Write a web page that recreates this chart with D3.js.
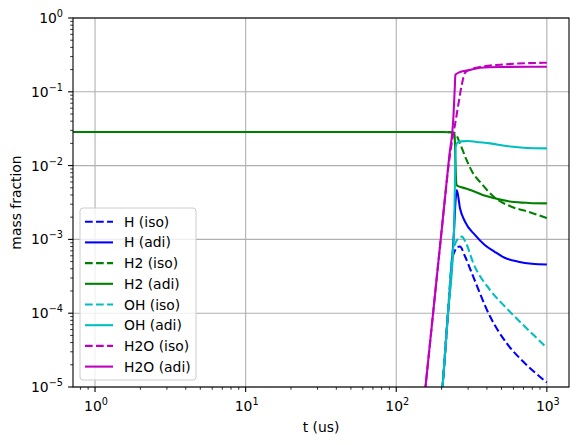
<!DOCTYPE html>
<html>
<head>
<meta charset="utf-8">
<script src="https://cdn.jsdelivr.net/npm/d3@7"></script>
<style>
body { margin: 0; background: #fff; }
svg text { font-family: "DejaVu Sans", sans-serif; fill: #000; }
</style>
</head>
<body>
<div id="chart"></div>
<script>
// time points (us) and mass fractions
const hIsoT   = [195, 203, 220, 236, 245, 255, 265, 285, 325, 420, 542, 698, 1000];
const hIsoY   = [3.4e-6, 1e-5, 9.3e-5, 5.5e-4, 7e-4, 7.9e-4, 8e-4, 6e-4, 3.1e-4, 9e-5, 3.9e-5, 2.2e-5, 1.15e-5];
const hAdiT   = [195, 203, 220, 242, 248, 252.4, 265, 286, 333, 387, 450, 524, 646, 794, 1000];
const hAdiY   = [3.4e-6, 1e-5, 9.3e-5, 1.34e-3, 3.5e-3, 4.67e-3, 2.64e-3, 1.74e-3, 1.15e-3, 8.4e-4, 6.8e-4, 5.65e-4, 4.99e-4, 4.68e-4, 4.58e-4];
const h2IsoT  = [0.714, 200, 228, 238, 245.7, 265, 290, 320, 368, 450, 583, 754, 1000];
const h2IsoY  = [0.0285, 0.0285, 0.0284, 0.028, 0.0274, 0.02, 0.0125, 0.0082, 0.0057, 0.0037, 0.00277, 0.00237, 0.00195];
const h2AdiT  = [0.714, 200, 228, 238, 244, 247, 250, 252, 290, 333, 390, 450, 583, 760, 1000];
const h2AdiY  = [0.0285, 0.0285, 0.0283, 0.0278, 0.026, 0.012, 0.006, 0.0054, 0.0049, 0.00443, 0.0039, 0.0036, 0.00324, 0.00312, 0.00308];
const ohIsoT  = [195, 203, 220, 236, 245, 255, 272, 290, 325, 420, 542, 698, 1000];
const ohIsoY  = [3.4e-6, 1e-5, 9.3e-5, 6.6e-4, 8.5e-4, 1.0e-3, 1.09e-3, 9e-4, 4.75e-4, 2.06e-4, 1.16e-4, 6.9e-5, 3.4e-5];
const ohAdiT  = [195, 203, 220, 242, 246, 248, 255, 270, 300, 342, 420, 540, 700, 1000];
const ohAdiY  = [3.4e-6, 1e-5, 9.3e-5, 1.34e-3, 0.008, 0.018, 0.0205, 0.0213, 0.0216, 0.0209, 0.02, 0.0184, 0.0175, 0.0171];
const h2oIsoT = [150, 175, 200, 225, 235, 245, 258, 272, 286, 309, 360, 490, 1000];
const h2oIsoY = [4.4e-6, 9.3e-5, 1.3e-3, 0.012, 0.022, 0.035, 0.066, 0.123, 0.18, 0.2, 0.217, 0.233, 0.248];
const h2oAdiT = [150, 175, 200, 225, 240, 245, 247, 265, 309, 360, 490, 1000];
const h2oAdiY = [4.4e-6, 9.3e-5, 1.3e-3, 0.0135, 0.048, 0.12, 0.17, 0.185, 0.197, 0.212, 0.217, 0.219];

const labels = ['H (iso)', 'H (adi)', 'H2 (iso)', 'H2 (adi)', 'OH (iso)', 'OH (adi)', 'H2O (iso)', 'H2O (adi)'];
const colors = ['#0000ff', '#0000ff', '#008000', '#008000', '#00bfbf', '#00bfbf', '#bf00bf', '#bf00bf'];
const dashed = [true, false, true, false, true, false, true, false];
const seriesT = [hIsoT, hAdiT, h2IsoT, h2AdiT, ohIsoT, ohAdiT, h2oIsoT, h2oAdiT];
const seriesY = [hIsoY, hAdiY, h2IsoY, h2AdiY, ohIsoY, ohAdiY, h2oIsoY, h2oAdiY];

const xTicks = [1, 10, 100, 1000];
const yTicks = [1e-5, 1e-4, 1e-3, 1e-2, 1e-1, 1];

const width = 578;
const height = 445;
const pL = 73, pR = 569, pT = 18, pB = 387;
const lw = 2.08;
const dash = '7.7,3.33';

const x = d3.scaleLog().domain([0.714, 1403]).range([pL, pR]);
const y = d3.scaleLog().domain([1e-5, 1]).range([pB, pT]);

const svg = d3.select('#chart').append('svg')
    .attr('width', width)
    .attr('height', height);

svg.append('defs').append('clipPath').attr('id', 'clip')
    .append('rect')
        .attr('x', pL).attr('y', pT)
        .attr('width', pR - pL).attr('height', pB - pT);

// grid
svg.append('g').selectAll('line').data(xTicks).enter().append('line')
    .attr('x1', d => x(d)).attr('x2', d => x(d))
    .attr('y1', pT).attr('y2', pB)
    .style('stroke', '#b0b0b0').style('stroke-width', 1.1);
svg.append('g').selectAll('line').data(yTicks).enter().append('line')
    .attr('x1', pL).attr('x2', pR)
    .attr('y1', d => y(d)).attr('y2', d => y(d))
    .style('stroke', '#b0b0b0').style('stroke-width', 1.1);

// lines
const line = d3.line()
    .x(d => x(d[0]))
    .y(d => y(d[1]))
    .curve(d3.curveMonotoneX);

const plot = svg.append('g').attr('clip-path', 'url(#clip)');
seriesT.forEach(function(ts, i) {
    const pts = ts.map((t, j) => [t, seriesY[i][j]]);
    plot.append('path')
        .attr('d', line(pts))
        .style('fill', 'none')
        .style('stroke', colors[i])
        .style('stroke-width', lw)
        .style('stroke-dasharray', dashed[i] ? dash : null);
});

// minor ticks
const xMinor = [];
[0.1, 1, 10, 100, 1000].forEach(function(p) {
    for (let k = 2; k < 10; k++) {
        const v = p * k;
        if (v > x.domain()[0] && v < x.domain()[1]) xMinor.push(v);
    }
});
const yMinor = [];
[1e-5, 1e-4, 1e-3, 1e-2, 1e-1].forEach(function(p) {
    for (let k = 2; k < 10; k++) yMinor.push(p * k);
});

const axes = svg.append('g');
axes.selectAll('.xmin').data(xMinor).enter().append('line')
    .attr('x1', d => x(d)).attr('x2', d => x(d))
    .attr('y1', pB).attr('y2', pB + 2.8)
    .style('stroke', '#000').style('stroke-width', 0.8);
axes.selectAll('.ymin').data(yMinor).enter().append('line')
    .attr('x1', pL - 2.8).attr('x2', pL)
    .attr('y1', d => y(d)).attr('y2', d => y(d))
    .style('stroke', '#000').style('stroke-width', 0.8);
axes.selectAll('.xmaj').data(xTicks).enter().append('line')
    .attr('x1', d => x(d)).attr('x2', d => x(d))
    .attr('y1', pB).attr('y2', pB + 4.9)
    .style('stroke', '#000').style('stroke-width', 1.1);
axes.selectAll('.ymaj').data(yTicks).enter().append('line')
    .attr('x1', pL - 4.9).attr('x2', pL)
    .attr('y1', d => y(d)).attr('y2', d => y(d))
    .style('stroke', '#000').style('stroke-width', 1.1);

// tick labels, 10^n
function powLabel(sel, d) {
    const e = Math.round(Math.log10(d));
    sel.append('tspan').text('10');
    sel.append('tspan').attr('dy', -6).style('font-size', '9.7px')
        .text(e < 0 ? '\u2212' + (-e) : String(e));
}
xTicks.forEach(function(d) {
    const t = axes.append('text')
        .attr('x', x(d) + 1).attr('y', 411)
        .attr('text-anchor', 'middle')
        .style('font-size', '13.9px');
    powLabel(t, d);
});
yTicks.forEach(function(d) {
    const t = axes.append('text')
        .attr('x', 63).attr('y', y(d) + 5)
        .attr('text-anchor', 'end')
        .style('font-size', '13.9px');
    powLabel(t, d);
});

// frame
svg.append('rect')
    .attr('x', pL).attr('y', pT)
    .attr('width', pR - pL).attr('height', pB - pT)
    .style('fill', 'none').style('stroke', '#000').style('stroke-width', 1.1);

// axis labels
svg.append('text')
    .attr('x', (pL + pR) / 2).attr('y', 432)
    .attr('text-anchor', 'middle')
    .style('font-size', '13.9px')
    .text('t (us)');
svg.append('text')
    .attr('transform', `translate(21, ${(pT + pB) / 2}) rotate(-90)`)
    .attr('text-anchor', 'middle')
    .style('font-size', '13.9px')
    .text('mass fraction');

// legend
const legend = svg.append('g');
legend.append('rect')
    .attr('x', 80).attr('y', 208)
    .attr('width', 116).attr('height', 172)
    .attr('rx', 3)
    .style('fill', '#fff').style('fill-opacity', 0.8)
    .style('stroke', '#cccccc').style('stroke-width', 1);
labels.forEach(function(lab, i) {
    const ly = 221.7 + i * 20.7;
    legend.append('line')
        .attr('x1', 85).attr('x2', 113)
        .attr('y1', ly).attr('y2', ly)
        .style('stroke', colors[i])
        .style('stroke-width', lw)
        .style('stroke-dasharray', dashed[i] ? dash : null);
    legend.append('text')
        .attr('x', 124).attr('y', ly + 5)
        .style('font-size', '13.9px')
        .text(lab);
});
</script>
</body>
</html>
